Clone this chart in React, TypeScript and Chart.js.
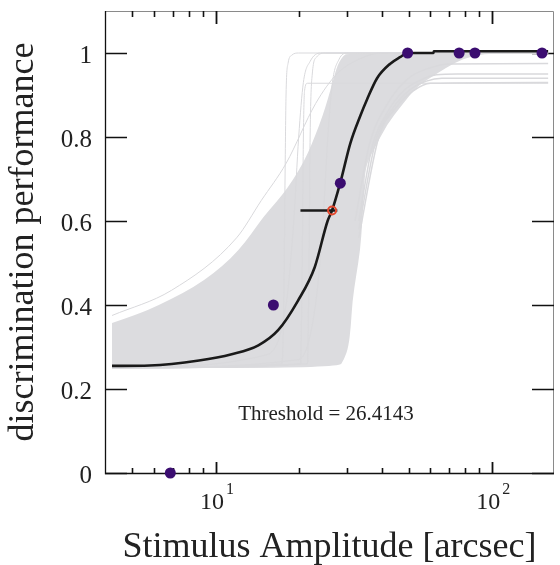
import React, { useEffect, useRef } from 'react';
import { Chart, registerables } from 'chart.js';

Chart.register(...registerables);

// ---------- data ----------
const X_MIN = 3.98;
const X_MAX = 168;
const Y_MIN = 0;
const Y_MAX = 1.1;

// observed data points
const stimulusLevels = [6.86, 16.2, 28.3, 49.6, 76.2, 86.9, 152];
const performance = [0, 0.4, 0.69, 1, 1, 1, 1];

// fitted psychometric curve
const fitX = [4.22, 5.77, 8.71, 11.44, 14.29, 16.85, 19.87, 22.86, 25.45, 26.41, 28.26, 30.76, 33.41, 35.39, 38.44, 42.79, 46.5, 49.64, 61.5, 61.7, 160];
const fitY = [0.255, 0.256, 0.268, 0.283, 0.304, 0.34, 0.41, 0.49, 0.6, 0.625, 0.69, 0.785, 0.85, 0.89, 0.94, 0.974, 0.99, 1.0, 1.0, 1.004, 1.004];

// threshold
const thresholdValue = 26.4143;
const thresholdLevel = 0.625;
const thresholdCI = [20.3, 27.6];

// bootstrap cloud envelope
const bandUpperX = [4.22, 5.2, 6.27, 7.6, 9.08, 10.6, 12.12, 13.5, 14.89, 16.6, 18.3, 20.0, 21.58, 23.0, 24.42, 25.5, 26.52, 27.3, 28.09, 29.0, 30.0, 160];
const bandUpperY = [0.357, 0.377, 0.4, 0.428, 0.458, 0.493, 0.53, 0.57, 0.61, 0.645, 0.68, 0.72, 0.76, 0.805, 0.85, 0.89, 0.93, 0.96, 0.98, 0.993, 1.0, 1.0];
const bandLowerX = [4.22, 27.9, 29.2, 30.3, 30.9, 31.3, 32.3, 33.4, 34.0, 34.3, 34.8, 36.0, 37.5, 41.7, 47.2, 53.5, 63, 74, 84, 100, 160];
const bandLowerY = [0.25, 0.25, 0.27, 0.3, 0.35, 0.41, 0.47, 0.53, 0.6, 0.65, 0.72, 0.75, 0.77, 0.83, 0.875, 0.92, 0.95, 0.978, 0.992, 1.0, 1.0];

// individual bootstrap curves standing out of the cloud
const bootAX = [4.22, 6.93, 11.92, 14.65, 18.0, 23.05, 27.5, 33, 40, 160];
const bootAY = [0.375, 0.435, 0.56, 0.649, 0.737, 0.88, 0.95, 0.985, 1.0, 1.0];
const bootBX = [4.22, 17.4, 17.7, 17.85, 18.0, 18.3, 18.9, 20, 160];
const bootBY = [0.25, 0.26, 0.45, 0.7, 0.9, 0.975, 0.995, 1.0, 1.0];
const bootCX = [4.22, 20.3, 20.6, 20.8, 21.0, 21.5, 160];
const bootCY = [0.25, 0.26, 0.5, 0.8, 0.91, 0.928, 0.928];
const bootDX = [4.22, 21.5, 21.8, 22.0, 22.4, 23.2, 25, 160];
const bootDY = [0.25, 0.26, 0.5, 0.8, 0.95, 0.99, 1.0, 1.0];
const bootEX = [4.22, 15, 18, 19.2, 20, 20.8, 22, 24, 160];
const bootEY = [0.25, 0.28, 0.4, 0.6, 0.8, 0.93, 0.98, 1.0, 1.0];
const bootFX = [4.22, 20, 23, 24.5, 25.5, 26.5, 28, 30, 160];
const bootFY = [0.25, 0.27, 0.4, 0.6, 0.8, 0.93, 0.985, 1.0, 1.0];
// lapse-limited curves on the right
const lapseAX = [33, 37, 42, 48, 55, 63, 75, 160];
const lapseAY = [0.6, 0.78, 0.86, 0.91, 0.935, 0.948, 0.95, 0.95];
const lapseBX = [33, 38, 44, 50, 58, 66, 160];
const lapseBY = [0.58, 0.79, 0.87, 0.91, 0.933, 0.94, 0.94];
const lapseCX = [33, 39, 45, 52, 60, 160];
const lapseCY = [0.56, 0.8, 0.87, 0.91, 0.928, 0.93];
const lapseDX = [32, 36, 42, 50, 60, 70, 160];
const lapseDY = [0.6, 0.78, 0.88, 0.94, 0.965, 0.974, 0.975];

// axes
const yTicks = [0, 0.2, 0.4, 0.6, 0.8, 1];
const yTickLabels = ['0', '0.2', '0.4', '0.6', '0.8', '1'];
const xMajorTicks = [10, 100];
const xMajorExponents = ['1', '2'];
const xMinorTicks = [5, 6, 7, 8, 9, 20, 30, 40, 50, 60, 70, 80, 90];

const xTitle = 'Stimulus Amplitude [arcsec]';
const yTitle = 'discrimination performance';
const thresholdText = 'Threshold = 26.4143';

const SERIF = "'Liberation Serif', 'Times New Roman', serif";
const GRAY = '#d9d9dc';
const BAND = '#dcdcdf';

const pts = (xs: number[], ys: number[]) => xs.map((x, i) => ({ x, y: ys[i] }));

// smooth polyline through pixel points (midpoint quadratic)
function smoothPath(ctx: CanvasRenderingContext2D, p: number[][], start: boolean) {
  if (start) ctx.moveTo(p[0][0], p[0][1]);
  else ctx.lineTo(p[0][0], p[0][1]);
  for (let i = 1; i < p.length - 1; i++) {
    const mx = (p[i][0] + p[i + 1][0]) / 2;
    const my = (p[i][1] + p[i + 1][1]) / 2;
    ctx.quadraticCurveTo(p[i][0], p[i][1], mx, my);
  }
  const last = p[p.length - 1];
  ctx.lineTo(last[0], last[1]);
}

const bandPlugin = {
  id: 'band',
  beforeDatasetsDraw(chart: any) {
    const { ctx, chartArea } = chart;
    const xs = chart.scales.x;
    const ys = chart.scales.y;
    const upper = bandUpperX.map((x, i) => [xs.getPixelForValue(x), ys.getPixelForValue(bandUpperY[i])]);
    const lower = bandLowerX.map((x, i) => [xs.getPixelForValue(x), ys.getPixelForValue(bandLowerY[i])]).reverse();
    ctx.save();
    ctx.beginPath();
    ctx.rect(chartArea.left, chartArea.top, chartArea.right - chartArea.left, chartArea.bottom - chartArea.top);
    ctx.clip();
    ctx.beginPath();
    smoothPath(ctx, upper, true);
    smoothPath(ctx, lower, false);
    ctx.closePath();
    ctx.fillStyle = BAND;
    ctx.fill();
    ctx.restore();
  },
};

const decorPlugin = {
  id: 'decor',
  beforeDatasetsDraw(chart: any) {
    const { ctx, chartArea } = chart;
    const { left: L, right: R, top: T, bottom: B } = chartArea;
    const xs = chart.scales.x;
    const ys = chart.scales.y;
    ctx.save();
    ctx.strokeStyle = '#8a8a8a';
    ctx.lineWidth = 1;
    ctx.beginPath();
    ctx.moveTo(L, T + 0.5);
    ctx.lineTo(R - 0.5, T + 0.5);
    ctx.lineTo(R - 0.5, B);
    ctx.stroke();
    ctx.strokeStyle = '#111';
    ctx.lineWidth = 1.3;
    ctx.beginPath();
    ctx.moveTo(L + 0.5, T);
    ctx.lineTo(L + 0.5, B + 0.5);
    ctx.lineTo(R, B + 0.5);
    ctx.stroke();
    ctx.lineWidth = 1.6;
    yTicks.forEach((v) => {
      const y = Math.round(ys.getPixelForValue(v)) + 0.5;
      ctx.beginPath();
      ctx.moveTo(L, y);
      ctx.lineTo(L + 22, y);
      ctx.moveTo(R - 22, y);
      ctx.lineTo(R, y);
      ctx.stroke();
    });
    xMinorTicks.forEach((v) => {
      const x = Math.round(xs.getPixelForValue(v)) + 0.5;
      ctx.beginPath();
      ctx.moveTo(x, B);
      ctx.lineTo(x, B - 5);
      ctx.moveTo(x, T);
      ctx.lineTo(x, T + 6);
      ctx.stroke();
    });
    ctx.lineWidth = 1.8;
    xMajorTicks.forEach((v) => {
      const x = Math.round(xs.getPixelForValue(v)) + 0.5;
      ctx.beginPath();
      ctx.moveTo(x, B);
      ctx.lineTo(x, B - 11);
      ctx.moveTo(x, T);
      ctx.lineTo(x, T + 13);
      ctx.stroke();
    });
    ctx.restore();
  },
  afterDraw(chart: any) {
    const { ctx, chartArea } = chart;
    const { left: L, right: R, top: T, bottom: B } = chartArea;
    const xs = chart.scales.x;
    const ys = chart.scales.y;
    ctx.save();
    ctx.fillStyle = '#222';
    ctx.font = `25px ${SERIF}`;
    ctx.textAlign = 'right';
    ctx.textBaseline = 'alphabetic';
    yTicks.forEach((v, i) => {
      const y = ys.getPixelForValue(v);
      ctx.fillText(yTickLabels[i], 92, y + 10);
    });
    ctx.textAlign = 'left';
    xMajorTicks.forEach((v, i) => {
      const x = xs.getPixelForValue(v);
      ctx.font = `24px ${SERIF}`;
      const left = x - 15.5;
      ctx.fillText('10', left, 509);
      const w = ctx.measureText('10').width;
      ctx.font = `16px ${SERIF}`;
      ctx.fillText(xMajorExponents[i], left + w + 2, 494);
    });
    ctx.font = `21px ${SERIF}`;
    ctx.textAlign = 'center';
    ctx.fillText(thresholdText, 326, 420);
    ctx.font = `36px ${SERIF}`;
    ctx.textAlign = 'center';
    ctx.fillText(xTitle, (L + R) / 2, 557);
    ctx.save();
    ctx.translate(33, (T + B) / 2);
    ctx.rotate(-Math.PI / 2);
    ctx.fillText(yTitle, 0, 0);
    ctx.restore();
    ctx.restore();
  },
};

export default function App() {
  const canvasRef = useRef<HTMLCanvasElement | null>(null);

  useEffect(() => {
    if (!canvasRef.current) return;
    const grayLine = (xs: number[], ys: number[], w = 1) => ({
      data: pts(xs, ys),
      showLine: true,
      borderColor: GRAY,
      borderWidth: w,
      pointRadius: 0,
      cubicInterpolationMode: 'monotone',
      order: 5,
    });
    const chart = new Chart(canvasRef.current, {
      type: 'scatter',
      data: {
        datasets: [
          {
            data: pts(stimulusLevels, performance),
            showLine: false,
            pointRadius: 5.5,
            pointBackgroundColor: '#3b0d70',
            pointBorderColor: '#3b0d70',
            pointBorderWidth: 0,
            clip: false,
            order: 0,
          },
          {
            data: [{ x: thresholdValue, y: thresholdLevel }],
            showLine: false,
            pointRadius: 4,
            pointBackgroundColor: 'rgba(0,0,0,0)',
            pointBorderColor: '#e4472c',
            pointBorderWidth: 2,
            order: 1,
          },
          {
            data: thresholdCI.map((x) => ({ x, y: thresholdLevel })),
            showLine: true,
            borderColor: '#1a1a1a',
            borderWidth: 2.5,
            pointRadius: 0,
            order: 2,
          },
          {
            data: pts(fitX, fitY),
            showLine: true,
            borderColor: '#1a1a1a',
            borderWidth: 2.6,
            pointRadius: 0,
            cubicInterpolationMode: 'monotone',
            order: 3,
          },
          grayLine(bootAX, bootAY),
          grayLine(bootBX, bootBY),
          grayLine(bootCX, bootCY),
          grayLine(bootDX, bootDY),
          grayLine(bootEX, bootEY),
          grayLine(bootFX, bootFY),
          grayLine(lapseAX, lapseAY, 1.5),
          grayLine(lapseBX, lapseBY, 1.5),
          grayLine(lapseCX, lapseCY, 1.5),
          grayLine(lapseDX, lapseDY, 1.5),
        ] as any,
      },
      options: {
        responsive: false,
        animation: false,
        devicePixelRatio: 1,
        layout: { padding: { left: 105, right: 1, top: 11, bottom: 92 } },
        scales: {
          x: { type: 'logarithmic', min: X_MIN, max: X_MAX, display: false },
          y: { type: 'linear', min: Y_MIN, max: Y_MAX, display: false },
        },
        plugins: {
          legend: { display: false },
          tooltip: { enabled: false },
        } as any,
        events: [],
      } as any,
      plugins: [bandPlugin, decorPlugin],
    });
    return () => chart.destroy();
  }, []);

  return (
    <div style={{ position: 'absolute', left: 0, top: 0, width: 560, height: 565, background: '#fff' }}>
      <canvas ref={canvasRef} width={560} height={565} style={{ display: 'block' }} />
    </div>
  );
}
